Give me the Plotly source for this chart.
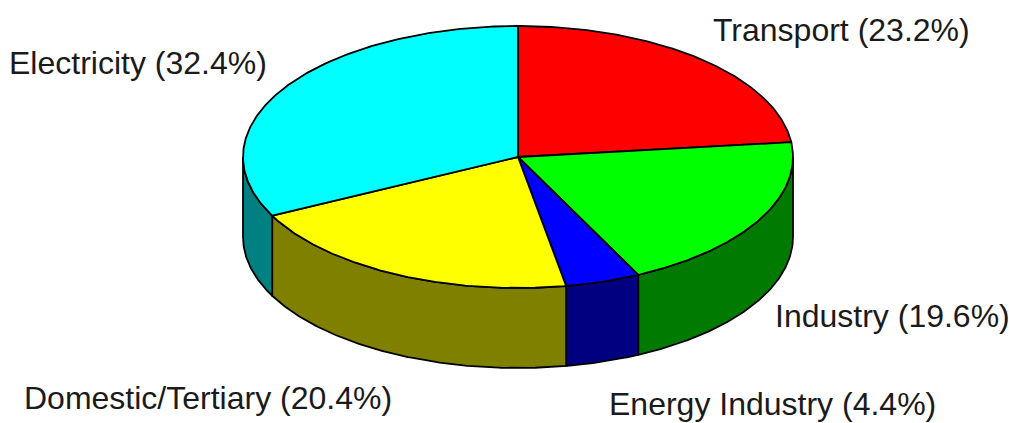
import numpy as np
import plotly.graph_objects as go

# ---- data ----
labels = ["Transport", "Industry", "Energy Industry", "Domestic/Tertiary", "Electricity"]
values = [23.2, 19.6, 4.4, 20.4, 32.4]
top_colors = ["#FF0000", "#00FF00", "#0000FF", "#FFFF00", "#00FFFF"]
side_colors = ["#800000", "#007A00", "#000080", "#808000", "#008080"]

# ---- geometry (pixel space) ----
W, H = 1009, 423
cx, cy = 518, 157
rx, ry = 275, 131
depth = 80

label_pos = {  # left x, vertical centre
    "Transport": (711, 30),
    "Industry": (773, 316),
    "Energy Industry": (607, 404),
    "Domestic/Tertiary": (22, 398),
    "Electricity": (7, 63),
}


def pt(theta_deg, dy=0.0):
    t = np.radians(theta_deg)
    return cx + rx * np.sin(t), cy - ry * np.cos(t) + dy


def arc(a, b, dy=0.0):
    n = max(2, int(abs(b - a) * 2) + 1)
    th = np.linspace(a, b, n)
    x, y = pt(th, dy)
    return list(x), list(y)


total = sum(values)
starts, ends = [], []
acc = 0.0
for v in values:
    starts.append(acc / total * 360.0)
    acc += v
    ends.append(acc / total * 360.0)

fig = go.Figure()
line = dict(color="black", width=1.8)

# sides (front half only: 90..270 deg)
for lab, s, e, sc in zip(labels, starts, ends, side_colors):
    a, b = max(s, 90.0), min(e, 270.0)
    if b <= a:
        continue
    xt, yt = arc(a, b)
    xb, yb = arc(b, a, depth)
    fig.add_trace(go.Scatter(x=xt + xb + [xt[0]], y=yt + yb + [yt[0]],
                             mode="lines", fill="toself", fillcolor=sc,
                             line=line, hoverinfo="text", text=lab,
                             showlegend=False))

# top slices
for lab, s, e, tc in zip(labels, starts, ends, top_colors):
    xa, ya = arc(s, e)
    xs = [cx] + xa + [cx]
    ys = [cy] + ya + [cy]
    fig.add_trace(go.Scatter(x=xs, y=ys, mode="lines", fill="toself",
                             fillcolor=tc, line=line, hoverinfo="text",
                             text=lab, showlegend=False))

for lab, v in zip(labels, values):
    lx, ly = label_pos[lab]
    fig.add_annotation(x=lx, y=ly, xref="x", yref="y", text=f"{lab} ({v}%)",
                       showarrow=False, xanchor="left", yanchor="middle",
                       font=dict(family="Liberation Sans, Arial", size=32,
                                 color="#1a1a1a"))

fig.update_layout(
    width=W, height=H, margin=dict(l=0, r=0, t=0, b=0),
    paper_bgcolor="white", plot_bgcolor="white",
    xaxis=dict(range=[0, W], visible=False, fixedrange=True),
    yaxis=dict(range=[H, 0], visible=False, fixedrange=True),
)

fig.write_html("out.html")
